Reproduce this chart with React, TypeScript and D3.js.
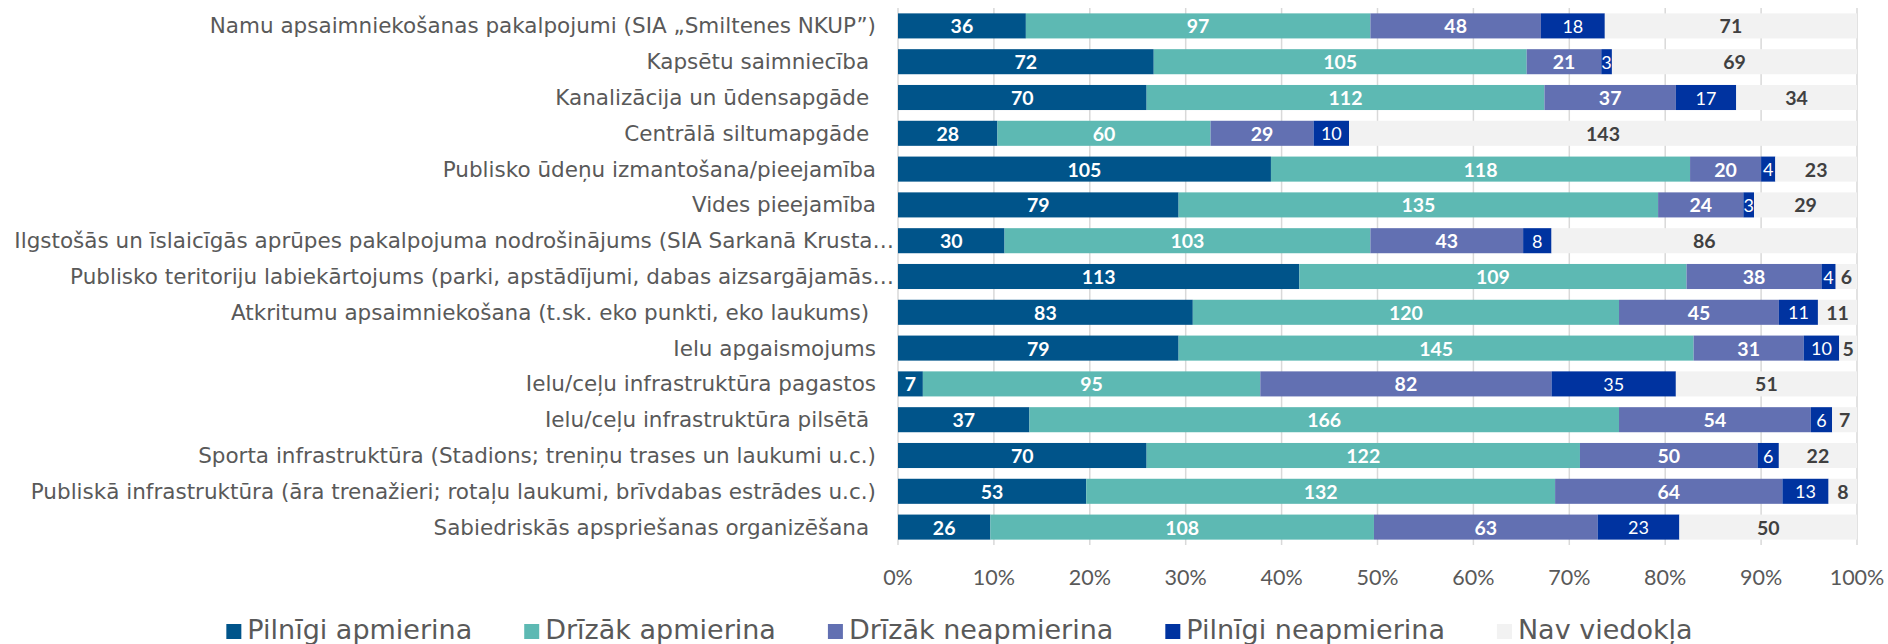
import React from "react";
import * as d3 from "d3";

const categories = [
  "Namu apsaimniekošanas pakalpojumi (SIA „Smiltenes NKUP”)",
  "Kapsētu saimniecība ",
  "Kanalizācija un ūdensapgāde ",
  "Centrālā siltumapgāde ",
  "Publisko ūdeņu izmantošana/pieejamība",
  "Vides pieejamība",
  "Ilgstošās un īslaicīgās aprūpes pakalpojuma nodrošinājums (SIA Sarkanā Krusta…",
  "Publisko teritoriju labiekārtojums (parki, apstādījumi, dabas aizsargājamās…",
  "Atkritumu apsaimniekošana (t.sk. eko punkti, eko laukums) ",
  "Ielu apgaismojums",
  "Ielu/ceļu infrastruktūra pagastos",
  "Ielu/ceļu infrastruktūra pilsētā ",
  "Sporta infrastruktūra (Stadions; treniņu trases un laukumi u.c.)",
  "Publiskā infrastruktūra (āra trenažieri; rotaļu laukumi, brīvdabas estrādes u.c.)",
  "Sabiedriskās apspriešanas organizēšana ",
];

const seriesNames = [
  "Pilnīgi apmierina",
  "Drīzāk apmierina",
  "Drīzāk neapmierina",
  "Pilnīgi neapmierina",
  "Nav viedokļa",
];

const pilnigiApmierina = [36, 72, 70, 28, 105, 79, 30, 113, 83, 79, 7, 37, 70, 53, 26];
const drizakApmierina = [97, 105, 112, 60, 118, 135, 103, 109, 120, 145, 95, 166, 122, 132, 108];
const drizakNeapmierina = [48, 21, 37, 29, 20, 24, 43, 38, 45, 31, 82, 54, 50, 64, 63];
const pilnigiNeapmierina = [18, 3, 17, 10, 4, 3, 8, 4, 11, 10, 35, 6, 6, 13, 23];
const navViedokla = [71, 69, 34, 143, 23, 29, 86, 6, 11, 5, 51, 7, 22, 8, 50];

const tickValues = [0, 0.1, 0.2, 0.3, 0.4, 0.5, 0.6, 0.7, 0.8, 0.9, 1];

const colors = ["#00548A", "#5DB9B3", "#6270B2", "#0033A0", "#F2F2F2"];
const labelColors = ["#FFFFFF", "#FFFFFF", "#FFFFFF", "#FFFFFF", "#404040"];
const labelWeights = [700, 700, 700, 400, 700];

const W = 1888;
const H = 644;
const plotLeft = 898;
const plotRight = 1857;
const plotTop = 8;
const plotBottom = 545;

const catFont = "'DejaVu Sans', Verdana, sans-serif";
const numFont = "Lato, 'Open Sans', sans-serif";
const legendFontSize = 27;

function measure(text: string, font: string): number {
  const c = document.createElement("canvas");
  const ctx = c.getContext("2d");
  if (!ctx) return text.length * 14;
  ctx.font = font;
  return ctx.measureText(text).width;
}

export default function App() {
  const seriesValues = [pilnigiApmierina, drizakApmierina, drizakNeapmierina, pilnigiNeapmierina, navViedokla];
  const table = categories.map((c, i) => {
    const row: any = { cat: c };
    seriesNames.forEach((s, k) => (row[s] = seriesValues[k][i]));
    return row;
  });
  const stack = d3.stack<any>().keys(seriesNames).offset(d3.stackOffsetExpand);
  const stacked = stack(table);

  const x = d3.scaleLinear().domain([0, 1]).range([plotLeft, plotRight]);
  const y = d3
    .scaleBand<string>()
    .domain(categories)
    .range([plotTop, plotBottom])
    .paddingInner(0.3)
    .paddingOuter(0.15);

  // legend layout
  const legendFont = `${legendFontSize}px ${catFont}`;
  const sq = 15;
  const sqGap = 6;
  const itemGap = 52;
  const widths = seriesNames.map((s) => measure(s, legendFont));
  const total = widths.reduce((a, w) => a + sq + sqGap + w, 0) + itemGap * (seriesNames.length - 1);
  let lx = 959.5 - total / 2;
  const legendItems = seriesNames.map((s, k) => {
    const item = { name: s, x: lx, color: colors[k] };
    lx += sq + sqGap + widths[k] + itemGap;
    return item;
  });

  return (
    <svg
      width={W}
      height={H}
      style={{ position: "absolute", left: 0, top: 0, background: "#fff" }}
    >
      {/* gridlines */}
      {tickValues.map((t) => (
        <line
          key={"g" + t}
          x1={x(t)}
          x2={x(t)}
          y1={plotTop}
          y2={plotBottom}
          stroke="#D9D9D9"
          strokeWidth={1.5}
        />
      ))}
      {/* bars */}
      {stacked.map((layer, k) => (
        <g key={layer.key}>
          {layer.map((d, i) => (
            <rect
              key={i}
              x={x(d[0])}
              y={y(categories[i])}
              width={Math.max(0, x(d[1]) - x(d[0]))}
              height={y.bandwidth()}
              fill={colors[k]}
            />
          ))}
        </g>
      ))}
      {/* data labels */}
      {stacked.map((layer, k) => (
        <g key={"l" + layer.key}>
          {layer.map((d, i) => (
            <text
              key={i}
              x={(x(d[0]) + x(d[1])) / 2}
              y={(y(categories[i]) as number) + y.bandwidth() / 2}
              textAnchor="middle"
              dominantBaseline="central"
              fontFamily={numFont}
              fontSize={k === 3 ? 18 : 19.5}
              fontWeight={labelWeights[k]}
              fill={labelColors[k]}
            >
              {seriesValues[k][i]}
            </text>
          ))}
        </g>
      ))}
      {/* category labels */}
      {categories.map((c) => (
        <text
          key={c}
          x={c.endsWith("…") ? 894 : 876}
          y={(y(c) as number) + y.bandwidth() / 2}
          textAnchor="end"
          dominantBaseline="central"
          fontFamily={catFont}
          fontSize={21.5}
          fill="#595959"
          style={{ whiteSpace: "pre" }}
        >
          {c}
        </text>
      ))}
      {/* x tick labels */}
      {tickValues.map((t) => (
        <text
          key={"t" + t}
          x={x(t)}
          y={577}
          textAnchor="middle"
          dominantBaseline="central"
          fontFamily={numFont}
          fontSize={21.5}
          fill="#595959"
        >
          {d3.format(".0%")(t)}
        </text>
      ))}
      {/* legend */}
      {legendItems.map((it) => (
        <g key={it.name}>
          <rect x={it.x} y={624} width={sq} height={sq} fill={it.color} />
          <text
            x={it.x + sq + sqGap}
            y={638.5}
            fontFamily={catFont}
            fontSize={legendFontSize}
            fill="#595959"
          >
            {it.name}
          </text>
        </g>
      ))}
    </svg>
  );
}
